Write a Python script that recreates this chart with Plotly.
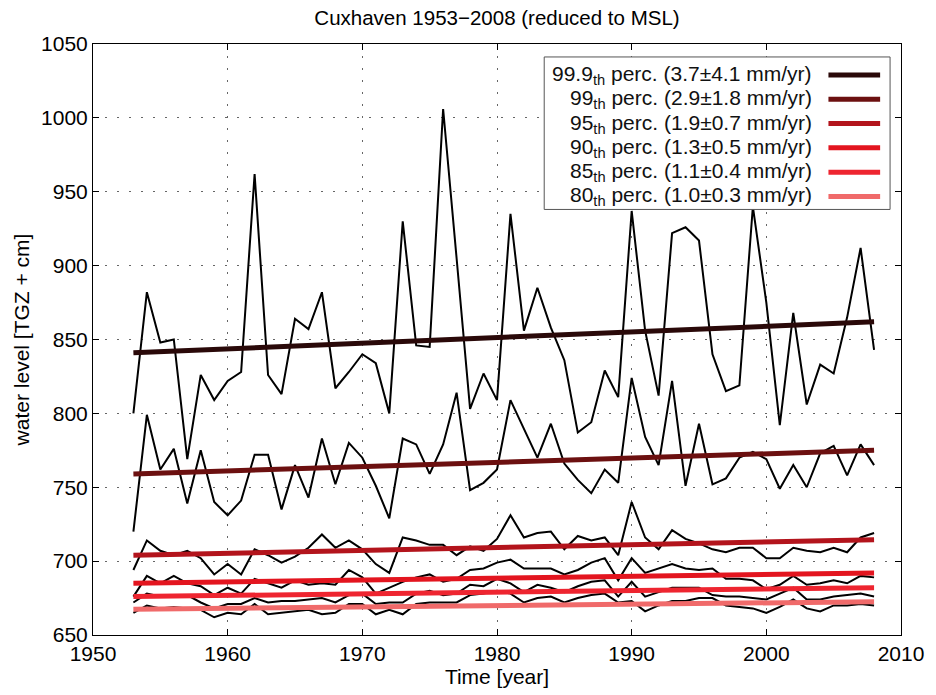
import plotly.graph_objects as go

# ---------------- data ----------------
years = list(range(1953, 2009))

p999 = [800, 882, 848, 850, 769, 826, 809, 822, 828, 962,
        826, 813, 864, 857, 882, 817, 828, 840, 834, 800,
        930, 846, 845, 1006, 905, 803, 827, 809, 935, 856,
        885, 858, 836, 787, 794, 829, 811, 937, 856, 812,
        922, 926, 917, 840, 815, 819, 940, 875, 792, 868,
        806, 833, 827, 865, 912, 843]

p99 = [720, 799, 762, 776, 739, 775, 740, 731, 741, 772,
       772, 735, 765, 743, 783, 752, 780, 770, 751, 729,
       783, 779, 759, 779, 814, 748, 753, 762, 809, 789,
       770, 793, 766, 755, 746, 762, 753, 824, 784, 765,
       822, 751, 793, 752, 756, 770, 774, 769, 749, 765,
       750, 773, 778, 758, 779, 765]

p95 = [694, 714, 707, 704, 707, 702, 691, 698, 691, 708,
       704, 699, 703, 709, 718, 709, 714, 708, 698, 692,
       716, 714, 711, 711, 704, 710, 707, 715, 731, 716,
       719, 720, 708, 717, 714, 716, 704, 740, 716, 708,
       721, 715, 712, 708, 706, 709, 709, 702, 702, 709,
       707, 706, 709, 706, 716, 719]

p90 = [676, 690, 685, 690, 685, 683, 677, 682, 678, 688,
       685, 682, 687, 684, 685, 684, 694, 689, 678, 682,
       686, 689, 691, 686, 688, 694, 695, 699, 701, 695,
       695, 695, 691, 694, 699, 702, 687, 702, 692, 695,
       698, 695, 694, 695, 688, 688, 687, 681, 684, 690,
       684, 685, 687, 685, 690, 689]

p85 = [672, 678, 676, 677, 677, 672, 668, 671, 671, 675,
       672, 673, 673, 674, 675, 672, 677, 678, 671, 672,
       672, 678, 680, 677, 678, 684, 683, 688, 685, 679,
       684, 682, 679, 683, 686, 687, 676, 686, 676, 679,
       682, 682, 682, 677, 676, 676, 675, 674, 678, 682,
       674, 674, 676, 677, 678, 676]

p80 = [665, 670, 668, 669, 668, 667, 662, 665, 664, 671,
       664, 665, 666, 667, 664, 665, 671, 671, 664, 667,
       664, 671, 672, 672, 672, 677, 678, 680, 678, 672,
       675, 676, 672, 675, 677, 678, 672, 673, 666, 670,
       673, 673, 675, 675, 670, 669, 668, 665, 669, 674,
       668, 666, 670, 670, 671, 670]

series = [p999, p99, p95, p90, p85, p80]

# linear trend lines (value at first and last year)
trend_years = [1953, 2008]
trend_start = [841, 759, 704, 685, 676, 667.5]
trend_end = [862, 775, 714.5, 692, 682, 672.5]

percentiles = ["99.9", "99", "95", "90", "85", "80"]
rates = ["3.7", "2.9", "1.9", "1.3", "1.1", "1.0"]
errors = ["4.1", "1.8", "0.7", "0.5", "0.4", "0.3"]

x_ticks = [1950, 1960, 1970, 1980, 1990, 2000, 2010]
y_ticks = [650, 700, 750, 800, 850, 900, 950, 1000, 1050]

# ---------------- styles ----------------
colors = ["#2a0909", "#6c1010", "#b3141c", "#e3151f", "#ee2530", "#f06a6a"]
FONT = "Liberation Sans, Arial, Helvetica, sans-serif"
FS = 21

W, H = 936, 695
L, R, T, B = 93, 30, 44, 58
pw, ph = W - L - R, H - T - B


def px(xp):
    return (xp - L) / pw


def py(yp):
    return 1 - (yp - T) / ph


fig = go.Figure()

for s in series:
    fig.add_trace(go.Scatter(x=years, y=s, mode="lines",
                             line=dict(color="black", width=2),
                             showlegend=False, hoverinfo="skip"))

for i in range(len(series)):
    fig.add_trace(go.Scatter(x=trend_years, y=[trend_start[i], trend_end[i]],
                             mode="lines", line=dict(color=colors[i], width=5),
                             showlegend=False, hoverinfo="skip"))

# ---------------- manual legend (text left, line right) ----------------
shapes = [dict(type="rect", xref="paper", yref="paper",
               x0=px(547), x1=px(895), y0=py(210), y1=py(57),
               line=dict(color="#555555", width=1), fillcolor="white", layer="above")]
annotations = []
row0, drow = 75, 24.4
for i in range(len(percentiles)):
    yc = row0 + i * drow
    label = f"{percentiles[i]}<sub>th</sub> perc. ({rates[i]}±{errors[i]} mm/yr)"
    annotations.append(dict(xref="paper", yref="paper", x=px(818), y=py(yc),
                            xanchor="right", yanchor="middle", showarrow=False,
                            text=label, font=dict(family=FONT, size=FS, color="#111111")))
    shapes.append(dict(type="line", xref="paper", yref="paper",
                       x0=px(833), x1=px(885), y0=py(yc), y1=py(yc),
                       line=dict(color=colors[i], width=5), layer="above"))

axis_common = dict(showline=True, linecolor="black", linewidth=1, mirror="ticks",
                   ticks="inside", ticklen=6, tickcolor="black",
                   showgrid=True, gridcolor="#666666", gridwidth=1, griddash="2px,10px",
                   zeroline=False, tickfont=dict(family=FONT, size=FS, color="black"))

fig.update_layout(
    width=W, height=H,
    margin=dict(l=L, r=R, t=T, b=B),
    paper_bgcolor="white", plot_bgcolor="white",
    title=dict(text="Cuxhaven 1953−2008 (reduced to MSL)", x=0.5, xref="paper",
               y=1 - 18 / H, yanchor="middle",
               font=dict(family=FONT, size=20.5, color="black")),
    xaxis=dict(range=[1950, 2010], tickvals=x_ticks,
               title=dict(text="Time [year]", standoff=3,
                          font=dict(family=FONT, size=FS, color="black")),
               **axis_common),
    yaxis=dict(range=[650, 1050], tickvals=y_ticks,
               title=dict(text="water level [TGZ + cm]", standoff=5,
                          font=dict(family=FONT, size=FS, color="black")),
               **axis_common),
    shapes=shapes, annotations=annotations,
    showlegend=False,
)

fig.write_html("out.html")
